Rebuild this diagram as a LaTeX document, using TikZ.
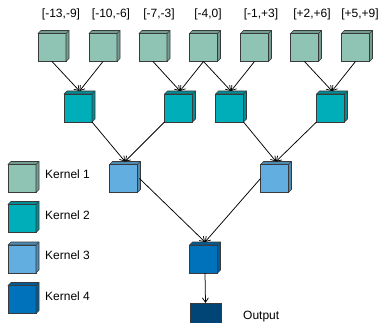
\documentclass[tikz,border=0pt]{standalone}
\usepackage{xcolor}
\usepackage{fontspec}
\setmainfont{Liberation Sans}
\usepackage{tikz}
\usetikzlibrary{positioning}
\usetikzlibrary{arrows.meta}
\pgfdeclarelayer{nodelayer}
\pgfdeclarelayer{edgelayer}
\pgfsetlayers{nodelayer,edgelayer,main}
\definecolor{kone}{HTML}{8FC3B3}
\definecolor{ktwo}{HTML}{00AEBA}
\definecolor{kthree}{HTML}{62AEE0}
\definecolor{kfour}{HTML}{0072BC}
\definecolor{outblue}{HTML}{004575}
\definecolor{cubeedge}{HTML}{3A3A3A}
\tikzset{
    none/.style = {inner sep=0pt},
    cube/.style = {draw=cubeedge, line width=0.6pt, minimum size=28pt, inner sep=0pt, outer sep=0pt},
    side/.style = {draw=cubeedge, line width=0.6pt, line join=round},
    flow/.style = {-{Straight Barb[length=4.5pt,width=6pt]}, line width=0.75pt},
    tag/.style = {inner sep=0pt, font=\fontsize{12}{14}\selectfont}
}
% front face plus top and right faces
\newcommand{\kcube}[3]{%
  \node [cube, fill=#3] (#1) at (#2) {};
  \draw [side, fill=#3!80!black] (#1.north west) -- ++(3pt,3pt)
    -- ([shift={(3pt,3pt)}]#1.north east) -- ([shift={(3pt,3pt)}]#1.south east)
    -- (#1.south east) -- (#1.north east) -- cycle;
  \draw [side] (#1.north east) -- ++(3pt,3pt);
}

\begin{document}
\begin{tikzpicture}[x=1pt, y=-1pt]
  \useasboundingbox (0,0) rectangle (380,323);
  \begin{pgfonlayer}{nodelayer}
    \kcube{0}{52,47.5}{kone}
    \kcube{1}{103,47.5}{kone}
    \kcube{2}{153,47.5}{kone}
    \kcube{3}{203.5,47.5}{kone}
    \kcube{4}{254.5,47.5}{kone}
    \kcube{5}{304.5,47.5}{kone}
    \kcube{6}{355.5,47.5}{kone}
    \kcube{7}{78,108}{ktwo}
    \kcube{8}{178.5,108}{ktwo}
    \kcube{9}{229.5,108}{ktwo}
    \kcube{10}{330.5,108}{ktwo}
    \kcube{11}{123.5,178.5}{kthree}
    \kcube{12}{274.5,178.5}{kthree}
    \kcube{13}{203.5,259}{kfour}
    \node [cube, fill=outblue, minimum size=31pt] (14) at (205.5,318.5) {};
    \node [tag] (15) at (61,14) {[-13,-9]};
    \node [tag] (16) at (111,14) {[-10,-6]};
    \node [tag] (17) at (159,14) {[-7,-3]};
    \node [tag] (18) at (208,14) {[-4,0]};
    \node [tag] (19) at (261,14) {[-1,+3]};
    \node [tag] (20) at (312,14) {[+2,+6]};
    \node [tag] (21) at (360,14) {[+5,+9]};
    \kcube{22}{22,178.5}{kone}
    \kcube{23}{22,218.5}{ktwo}
    \kcube{24}{22,259}{kthree}
    \kcube{25}{22,299.5}{kfour}
    \node [tag, anchor=west] (26) at (45,174) {Kernel 1};
    \node [tag, anchor=west] (27) at (45,215) {Kernel 2};
    \node [tag, anchor=west] (28) at (45,255.5) {Kernel 3};
    \node [tag, anchor=west] (29) at (45,296) {Kernel 4};
    \node [tag, anchor=west] (30) at (243,317) {Output};
  \end{pgfonlayer}
  \begin{pgfonlayer}{edgelayer}
    \draw [flow] (0.south) to ([shift={(1.5pt,3pt)}]7.north);
    \draw [flow] (1.south) to ([shift={(1.5pt,3pt)}]7.north);
    \draw [flow] (2.south) to ([shift={(1.5pt,3pt)}]8.north);
    \draw [flow] (3.south) to ([shift={(1.5pt,3pt)}]8.north);
    \draw [flow] (3.south) to ([shift={(1.5pt,3pt)}]9.north);
    \draw [flow] (4.south) to ([shift={(1.5pt,3pt)}]9.north);
    \draw [flow] (5.south) to ([shift={(1.5pt,3pt)}]10.north);
    \draw [flow] (6.south) to ([shift={(1.5pt,3pt)}]10.north);
    \draw [flow] (7.south east) to ([shift={(1.5pt,3pt)}]11.north);
    \draw [flow] (8.south west) to ([shift={(1.5pt,3pt)}]11.north);
    \draw [flow] (9.south east) to ([shift={(1.5pt,3pt)}]12.north);
    \draw [flow] (10.south west) to ([shift={(1.5pt,3pt)}]12.north);
    \draw [flow] ([xshift=2pt]11.east) to ([shift={(1.5pt,3pt)}]13.north);
    \draw [flow] (12.west) to ([shift={(1.5pt,3pt)}]13.north);
    \draw [flow] ([xshift=1.5pt]13.south) to (14.north);
  \end{pgfonlayer}
\end{tikzpicture}
\end{document}
